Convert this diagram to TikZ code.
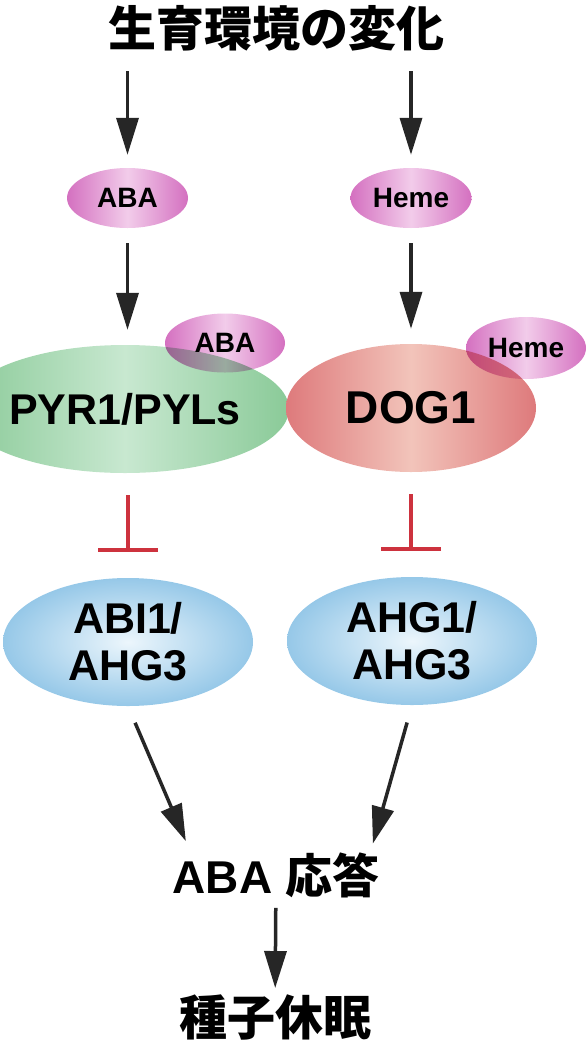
\documentclass[tikz,border=0pt]{standalone}
\usepackage{fontspec}
\setmainfont{Liberation Sans}
\newfontfamily\jp{Noto Sans CJK JP}
\usepackage{tikz}
\usetikzlibrary{arrows.meta,positioning,shapes.geometric}
\definecolor{pinkE}{RGB}{212,112,192}
\definecolor{pinkC}{RGB}{242,204,234}
\definecolor{grnE}{RGB}{138,202,152}
\definecolor{grnC}{RGB}{200,232,208}
\definecolor{redE}{RGB}{222,122,124}
\definecolor{redC}{RGB}{242,196,186}
\definecolor{bluE}{RGB}{150,200,232}
\definecolor{bluC}{RGB}{236,246,252}
\definecolor{inhred}{RGB}{205,50,62}
\tikzset{
  lig/.style={ellipse, inner sep=0pt, minimum width=121pt, minimum height=60pt,
              left color=pinkE, right color=pinkE, middle color=pinkC,
              font=\bfseries\fontsize{28}{30}\selectfont},
  rec/.style={ellipse, inner sep=0pt, minimum width=250pt, minimum height=128pt,
              font=\bfseries\fontsize{43}{47}\selectfont},
  pp/.style={ellipse, inner sep=0pt, minimum width=250pt, minimum height=128pt,
             inner color=bluC, outer color=bluE, align=center,
             font=\bfseries\fontsize{43}{47}\selectfont},
  ttl/.style={inner sep=0pt, font=\jp\bfseries\fontsize{48}{55}\selectfont},
  ar/.style={-{Triangle[length=37pt,width=22pt]}, line width=3.5pt, black!85},
  inh/.style={-{Bar[width=60pt]}, line width=4pt, inhred},
}

\begin{document}
\begin{tikzpicture}[x=1pt,y=1pt]
\useasboundingbox (0,0) rectangle (588,-1058);
\node[ttl] (env) at (276,-28) {生育環境の変化};
\node[lig] (aba) at (127.5,-198) {ABA};
\node[lig] (heme) at (411,-198) {Heme};
\node[rec, left color=grnE, right color=grnE, middle color=grnC] (pyr) at (125,-409) {PYR1/PYLs};
\node[rec, left color=redE, right color=redE, middle color=redC,
      font=\bfseries\fontsize{46}{50}\selectfont] (dog) at (411,-408) {DOG1};
\begin{scope}[blend mode=multiply]
\node[lig, minimum width=120pt, minimum height=59pt] (abab) at (225,-343) {ABA};
\node[lig, minimum width=120pt, minimum height=62pt] (hemeb) at (526,-348) {Heme};
\end{scope}
\node[pp] (abi) at (128,-642) {ABI1/\\AHG3};
\node[pp] (ahg) at (412,-641) {AHG1/\\AHG3};
\node[ttl, font=\bfseries\fontsize{46}{50}\selectfont] (resp) at (276,-875) {ABA {\jp\bfseries\fontsize{47}{50}\selectfont 応答}};
\node[ttl] (dorm) at (275,-1017) {種子休眠};
% upstream
\draw[ar, shorten <=20pt, shorten >=13pt] (env.south -| aba) -- (aba);
\draw[ar, shorten <=20pt, shorten >=13pt] (env.south -| heme) -- (heme);
\draw[ar, shorten <=15pt, shorten >=15pt] (aba) -- (pyr.north -| aba);
\draw[ar, shorten <=15pt, shorten >=15pt] (heme) -- (dog.north -| heme);
% inhibition
\draw[inh, shorten <=22pt, shorten >=26pt] (pyr.south -| aba) -- (abi.north -| aba);
\draw[inh, shorten <=22pt, shorten >=26pt] (dog.south -| heme) -- (ahg.north -| heme);
% to response
\draw[ar, shorten <=18pt, shorten >=12pt] (abi.south) -- ([xshift=18pt]resp.north west);
\draw[ar, shorten <=18pt, shorten >=9pt] (ahg.south) -- ([xshift=-9pt]resp.north east);
\draw[ar, shorten <=10pt, shorten >=6pt] (resp) -- (dorm);
\end{tikzpicture}
\end{document}
